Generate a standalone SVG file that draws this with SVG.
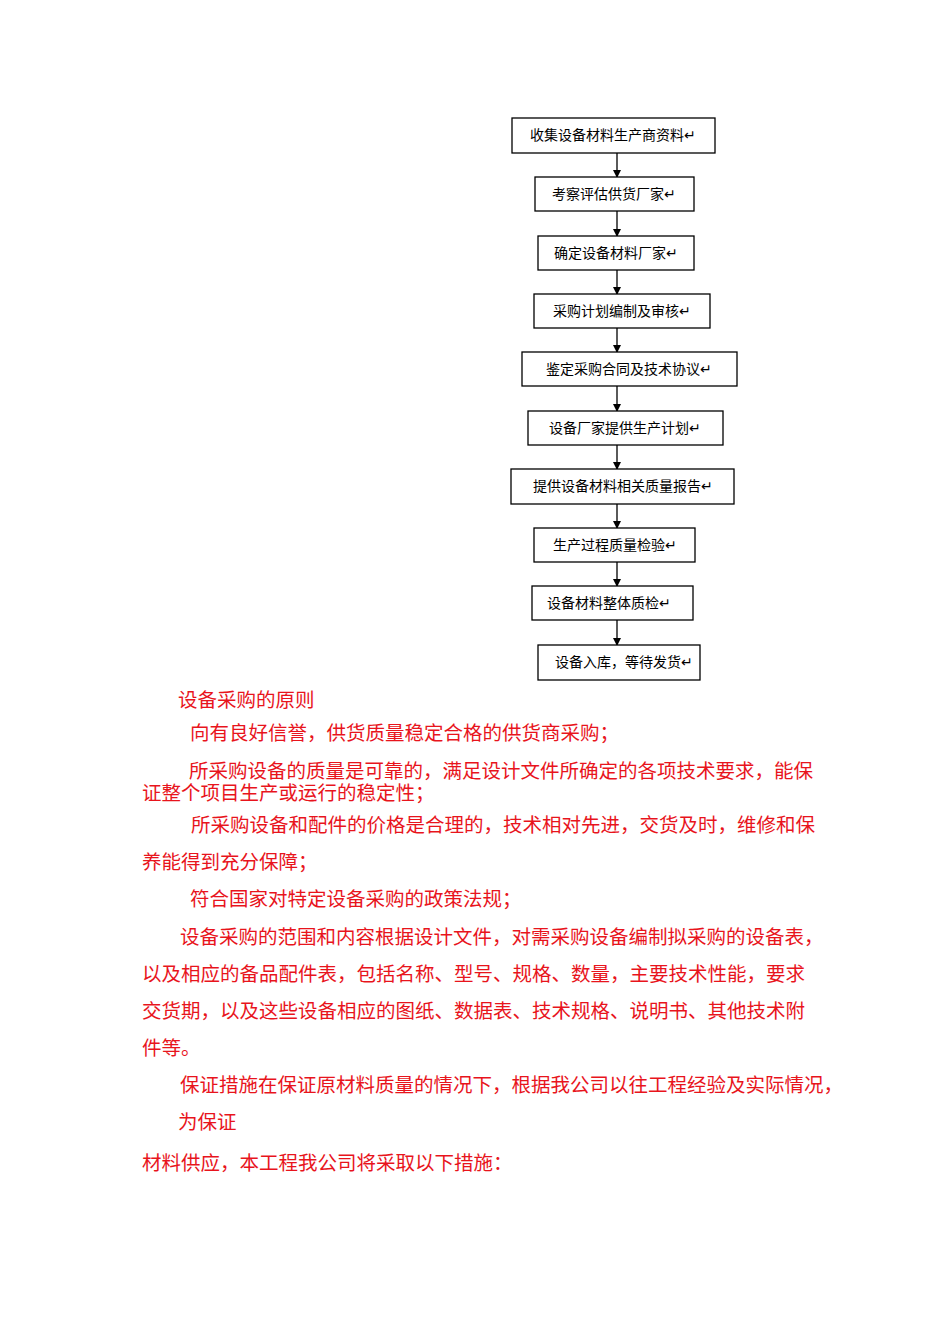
<svg xmlns="http://www.w3.org/2000/svg" width="950" height="1344" viewBox="0 0 950 1344">
<defs>
<style>
.b{fill:#fff;stroke:#000;stroke-width:1.3}
.n{font-family:"Noto Sans CJK SC",sans-serif;font-size:14px;fill:#000;text-anchor:middle}
.r{font-family:"Liberation Serif","Noto Sans CJK SC",serif;font-size:19.5px;fill:#e8141c}
.c{stroke:#000;stroke-width:1.3;marker-end:url(#a)}
</style>
<marker id="a" markerWidth="8" markerHeight="8" refX="7" refY="4" orient="auto" markerUnits="userSpaceOnUse"><path d="M0,0L8,4L0,8z" fill="#000"/></marker>
</defs>
<rect width="950" height="1344" fill="#fff"/>
<g id="connectors">
<line class="c" x1="617" y1="153" x2="617" y2="177"/>
<line class="c" x1="617" y1="211" x2="617" y2="236"/>
<line class="c" x1="617" y1="270" x2="617" y2="294"/>
<line class="c" x1="617" y1="328" x2="617" y2="352"/>
<line class="c" x1="617" y1="386" x2="617" y2="411"/>
<line class="c" x1="617" y1="445" x2="617" y2="469"/>
<line class="c" x1="617" y1="504" x2="617" y2="528"/>
<line class="c" x1="617" y1="562" x2="617" y2="586"/>
<line class="c" x1="617" y1="620" x2="617" y2="645"/>
</g>
<g id="n1"><rect class="b" x="512" y="118" width="203" height="35"/><text class="n" x="613" y="140">收集设备材料生产商资料↵</text></g>
<g id="n2"><rect class="b" x="535" y="177" width="159" height="34"/><text class="n" x="614" y="199">考察评估供货厂家↵</text></g>
<g id="n3"><rect class="b" x="538" y="236" width="156" height="34"/><text class="n" x="616" y="258">确定设备材料厂家↵</text></g>
<g id="n4"><rect class="b" x="534" y="294" width="176" height="34"/><text class="n" x="622" y="316">采购计划编制及审核↵</text></g>
<g id="n5"><rect class="b" x="522" y="352" width="215" height="34"/><text class="n" x="629" y="374">鉴定采购合同及技术协议↵</text></g>
<g id="n6"><rect class="b" x="528" y="411" width="195" height="34"/><text class="n" x="625" y="433">设备厂家提供生产计划↵</text></g>
<g id="n7"><rect class="b" x="511" y="469" width="223" height="35"/><text class="n" x="623" y="491">提供设备材料相关质量报告↵</text></g>
<g id="n8"><rect class="b" x="534" y="528" width="161" height="34"/><text class="n" x="615" y="550">生产过程质量检验↵</text></g>
<g id="n9"><rect class="b" x="532" y="586" width="161" height="34"/><text class="n" x="609" y="608">设备材料整体质检↵</text></g>
<g id="n10"><rect class="b" x="538" y="645" width="162" height="35"/><text class="n" x="624" y="667">设备入库，等待发货↵</text></g>
<g id="text">
<text class="r" x="178" y="707">设备采购的原则</text>
<text class="r" x="190" y="740">向有良好信誉，供货质量稳定合格的供货商采购；</text>
<text class="r" x="189" y="778">所采购设备的质量是可靠的，满足设计文件所确定的各项技术要求，能保</text>
<text class="r" x="142" y="800">证整个项目生产或运行的稳定性；</text>
<text class="r" x="191" y="832">所采购设备和配件的价格是合理的，技术相对先进，交货及时，维修和保</text>
<text class="r" x="142" y="869">养能得到充分保障；</text>
<text class="r" x="190" y="906">符合国家对特定设备采购的政策法规；</text>
<text class="r" x="180" y="944">设备采购的范围和内容根据设计文件，对需采购设备编制拟采购的设备表，</text>
<text class="r" x="142" y="981">以及相应的备品配件表，包括名称、型号、规格、数量，主要技术性能，要求</text>
<text class="r" x="142" y="1018">交货期，以及这些设备相应的图纸、数据表、技术规格、说明书、其他技术附</text>
<text class="r" x="142" y="1055">件等。</text>
<text class="r" x="180" y="1092">保证措施在保证原材料质量的情况下，根据我公司以往工程经验及实际情况，</text>
<text class="r" x="178" y="1129">为保证</text>
<text class="r" x="142" y="1170">材料供应，本工程我公司将采取以下措施：</text>
</g>
</svg>
